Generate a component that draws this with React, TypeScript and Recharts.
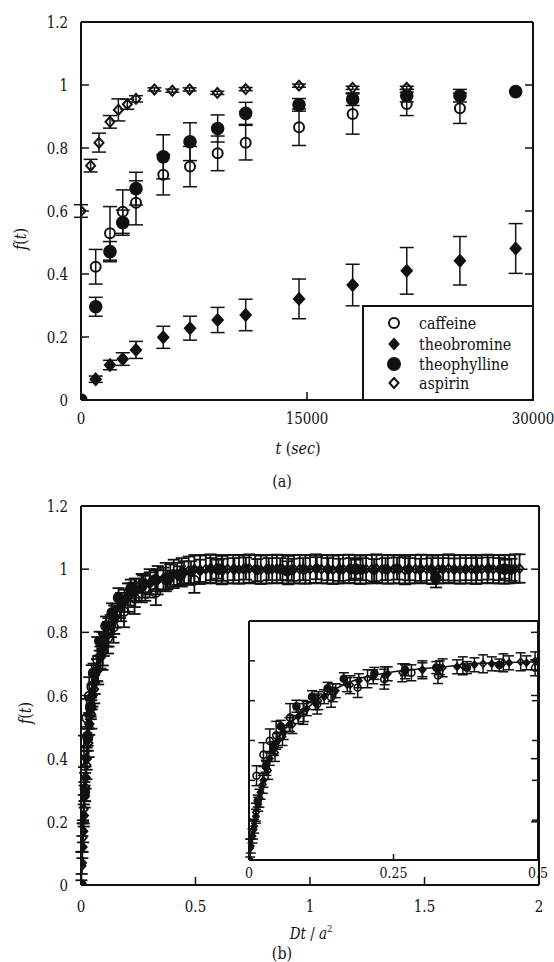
import React from 'react';
import { ComposedChart, Scatter, Line, XAxis, YAxis, ErrorBar } from 'recharts';

// only DejaVu Serif resolves to a real serif here; it runs wide, so text is narrowed with scaleX
const SERIF = "'DejaVu Serif', serif";
const NARROW = 0.84;
const INK = '#111';

// ---- (a) f(t) vs t ----
const tAsp = [0, 640, 1195, 1925, 2480, 3075, 3650, 4870, 6060, 7210, 9050, 10930, 14470, 18030, 21620];
const fAsp = [0.6, 0.744, 0.817, 0.883, 0.921, 0.939, 0.956, 0.986, 0.982, 0.986, 0.975, 0.987, 0.998, 0.991, 0.991];
const eAsp = [0.02, 0.02, 0.03, 0.02, 0.035, 0.016, 0.01, 0.005, 0.005, 0.005, 0.005, 0.005, 0.005, 0.005, 0.005];

const tCaf = [0, 975, 1925, 2770, 3650, 5460, 7235, 9070, 10930, 14470, 18030, 21620, 25150];
const fCaf = [0, 0.423, 0.529, 0.598, 0.626, 0.715, 0.741, 0.783, 0.817, 0.866, 0.908, 0.94, 0.926];
const eCaf = [0, 0.055, 0.085, 0.069, 0.07, 0.064, 0.064, 0.055, 0.055, 0.058, 0.064, 0.037, 0.048];

const tPhy = [0, 975, 1925, 2770, 3650, 5460, 7235, 9070, 10930, 14470, 18030, 21620, 25150, 28850];
const fPhy = [0, 0.296, 0.471, 0.563, 0.671, 0.772, 0.82, 0.862, 0.91, 0.937, 0.955, 0.966, 0.966, 0.979];
const ePhy = [0, 0.03, 0.032, 0.04, 0.052, 0.07, 0.06, 0.043, 0.035, 0.02, 0.02, 0.02, 0.02, 0];

const tBro = [0, 975, 1925, 2770, 3650, 5460, 7235, 9070, 10930, 14470, 18030, 21620, 25150, 28850];
const fBro = [0, 0.066, 0.111, 0.13, 0.159, 0.199, 0.228, 0.254, 0.27, 0.321, 0.365, 0.41, 0.442, 0.481];
const eBro = [0, 0.01, 0.015, 0.02, 0.027, 0.035, 0.038, 0.04, 0.05, 0.063, 0.066, 0.074, 0.077, 0.079];

const tTicks = [0, 15000, 30000];
const fTicks = [0, 0.2, 0.4, 0.6, 0.8, 1, 1.2];

// ---- (b) f vs Dt/a^2 ----
const dFit = [0, 0.005, 0.01, 0.015, 0.02, 0.03, 0.04, 0.06, 0.08, 0.1, 0.125, 0.15, 0.19, 0.22, 0.25, 0.29, 0.34, 0.38, 0.43, 0.5, 0.6, 0.8, 1.0, 1.2, 1.4, 1.6, 1.8, 1.95];
const fFit = [0, 0.12, 0.21, 0.29, 0.36, 0.47, 0.56, 0.65, 0.71, 0.76, 0.82, 0.86, 0.91, 0.93, 0.945, 0.958, 0.97, 0.985, 0.99, 0.995, 1, 1, 1, 1, 1, 1, 1, 1];

const dAspB = [
  0.002, 0.007, 0.012, 0.018, 0.024, 0.033, 0.045, 0.058, 0.075, 0.095,
  0.12, 0.145, 0.175, 0.205, 0.235, 0.265, 0.3, 0.335, 0.37, 0.405, 0.44,
  0.47, 0.495, 0.52, 0.545, 0.565, 0.59, 0.615, 0.64, 0.665, 0.69,
  0.71, 0.735, 0.76, 0.785, 0.81, 0.835, 0.855, 0.88, 0.905, 0.93,
  0.955, 0.98, 1.0, 1.025, 1.05, 1.075, 1.1, 1.125, 1.145, 1.17,
  1.195, 1.22, 1.245, 1.27, 1.29, 1.315, 1.34, 1.365, 1.39, 1.415,
  1.435, 1.46, 1.485, 1.51, 1.535, 1.56, 1.58, 1.605, 1.63, 1.655,
  1.68, 1.705, 1.725, 1.75, 1.775, 1.8, 1.825, 1.85, 1.87, 1.895,
  1.915,
];
const fAspB = [
  0.06, 0.15, 0.24, 0.31, 0.38, 0.45, 0.54, 0.62, 0.68, 0.74,
  0.8, 0.84, 0.88, 0.91, 0.925, 0.94, 0.955, 0.965, 0.975, 0.985, 0.99,
  0.995, 1, 0.998, 1, 1.002, 1, 0.997, 1, 1, 0.999,
  1, 1.002, 1, 0.998, 1, 1, 1.001, 1, 0.997, 1,
  1, 0.999, 1, 1.002, 1, 1, 0.998, 1, 1, 1.001,
  1, 0.998, 1, 1, 1.002, 1, 0.999, 1, 1, 0.997,
  1, 1, 1.001, 1, 0.998, 1, 1, 1.002, 1, 0.999,
  1, 1, 0.998, 1, 1.001, 1, 1, 0.999, 1, 1.002,
  1.002,
];
const eAspB = 0.045;

const dCafB = [0.013, 0.025, 0.036, 0.047, 0.071, 0.094, 0.118, 0.142, 0.188, 0.234, 0.281, 0.327, 0.495];
const fCafB = [0.423, 0.529, 0.598, 0.626, 0.715, 0.741, 0.783, 0.817, 0.866, 0.908, 0.94, 0.926, 0.965];
const eCafB = [0.05, 0.06, 0.06, 0.07, 0.07, 0.06, 0.05, 0.05, 0.05, 0.05, 0.04, 0.04, 0.04];

const dPhyB = [0, 0.015, 0.029, 0.042, 0.055, 0.082, 0.109, 0.136, 0.164, 0.217, 0.27, 0.324, 0.377, 0.433, 0.6, 0.9, 1.2, 1.55, 1.85];
const fPhyB = [0, 0.296, 0.471, 0.563, 0.671, 0.772, 0.82, 0.862, 0.91, 0.937, 0.955, 0.966, 0.966, 0.979, 1, 0.995, 1, 0.972, 1];
const ePhyB = [0, 0.03, 0.03, 0.03, 0.03, 0.03, 0.03, 0.03, 0.03, 0.03, 0.03, 0.03, 0.03, 0.03, 0.03, 0.03, 0.03, 0.03, 0.03];

const dBroB = [
  0.003, 0.006, 0.009, 0.012, 0.016, 0.02, 0.025, 0.03, 0.036,
  0.043, 0.05, 0.06, 0.07, 0.085, 0.1, 0.115, 0.13, 0.15, 0.17,
  0.19, 0.215, 0.24, 0.27, 0.3, 0.33, 0.36, 0.39, 0.42, 0.45,
  0.48, 0.52, 0.57, 0.62, 0.67, 0.72, 0.77, 0.82, 0.87, 0.92,
  0.97, 1.03, 1.08, 1.13, 1.18, 1.23, 1.28, 1.33, 1.38, 1.43,
  1.48, 1.53, 1.58, 1.63, 1.68, 1.73, 1.78, 1.83, 1.88,
];
const fBroB = [
  0.07, 0.12, 0.17, 0.22, 0.28, 0.34, 0.4, 0.46, 0.51,
  0.56, 0.6, 0.64, 0.68, 0.72, 0.76, 0.79, 0.82, 0.85, 0.88,
  0.9, 0.92, 0.935, 0.945, 0.955, 0.965, 0.97, 0.98, 0.985, 0.99,
  0.99, 0.995, 1, 0.998, 1, 1.002, 0.997, 1, 1, 0.998,
  1, 1.003, 1, 0.998, 1, 1, 0.997, 1, 1.002, 1,
  0.998, 1, 1, 0.999, 1, 1, 1.002, 1, 0.998,
];
const eBroB = 0.035;

const dTicks = [0, 0.5, 1, 1.5, 2];
const insetTicks = [0, 0.25, 0.5];

type Pt = { x: number; y: number; err: number };
const pts = (xs: number[], ys: number[], es: number[] | number): Pt[] =>
  xs.map((x, i) => ({ x, y: ys[i], err: Array.isArray(es) ? es[i] : es }));
const upTo = (d: Pt[], max: number) => d.filter((p) => p.x <= max);

const fitData = pts(dFit, fFit, 0);

type Kind = 'oc' | 'fc' | 'fd' | 'od';
const marker = (kind: Kind, s: number, sw = 1.6) => (p: any) => {
  const { cx, cy } = p;
  if (cx == null || cy == null) return <g />;
  if (kind === 'oc' || kind === 'fc')
    return <circle cx={cx} cy={cy} r={s} fill={kind === 'fc' ? INK : 'none'} stroke={INK} strokeWidth={sw} />;
  const w = s * 0.9;
  return (
    <path
      d={`M${cx},${cy - s}L${cx + w},${cy}L${cx},${cy + s}L${cx - w},${cy}Z`}
      fill={kind === 'fd' ? INK : 'none'}
      stroke={INK}
      strokeWidth={sw}
    />
  );
};

const svgText = (x: number, y: number, s: string, anchor: string, fs: number) => (
  <text transform={`translate(${x} ${y}) scale(${NARROW} 1)`} x={0} y={0} textAnchor={anchor}
    style={{ fontFamily: SERIF }} fontSize={fs} fill={INK}>
    {s}
  </text>
);

// inward ticks, drawn by hand since recharts only does outward ones
const tickBottom = (len: number, dy: number, fs: number) => (p: any) => (
  <g>
    <line x1={p.x} y1={p.y} x2={p.x} y2={p.y - len} stroke={INK} strokeWidth={1.5} />
    {svgText(p.x, p.y + dy, String(p.payload.value), 'middle', fs)}
  </g>
);
const tickTop = (len: number) => (p: any) => (
  <line x1={p.x} y1={p.y} x2={p.x} y2={p.y + len} stroke={INK} strokeWidth={1.5} />
);
const tickLeft = (len: number, show = true) => (p: any) => (
  <g>
    <line x1={p.x} y1={p.y} x2={p.x + len} y2={p.y} stroke={INK} strokeWidth={1.5} />
    {show && svgText(p.x - 13, p.y + 6, String(p.payload.value), 'end', 16)}
  </g>
);
const tickRight = (len: number) => (p: any) => (
  <line x1={p.x} y1={p.y} x2={p.x - len} y2={p.y} stroke={INK} strokeWidth={1.5} />
);

const frame = { stroke: INK, strokeWidth: 2 };

const series = (data: Pt[], kind: Kind, s: number, cap: number, key: string, sw = 1.6, ew = 1.5) => (
  <Scatter key={key} data={data} shape={marker(kind, s, sw)} isAnimationActive={false}>
    <ErrorBar dataKey="err" direction="y" width={cap} stroke={INK} strokeWidth={ew} isAnimationActive={false} />
  </Scatter>
);

// four framing axes; top and right get 1px so recharts still draws them
const Axes = ({ xDomain, xTicks, xLen, yLen, labelDy, fs, xH, yW, showY = true }: any) => [
  <XAxis key="xb" dataKey="x" type="number" domain={xDomain} ticks={xTicks} interval={0} height={xH} tickSize={0} tickMargin={0}
    tick={tickBottom(xLen, labelDy, fs)} axisLine={frame} allowDataOverflow />,
  <XAxis key="xt" xAxisId="top" orientation="top" type="number" domain={xDomain} ticks={xTicks} interval={0} height={1} tickSize={0}
    tickMargin={0} tick={tickTop(xLen)} axisLine={frame} allowDataOverflow />,
  <YAxis key="yl" dataKey="y" type="number" domain={[0, 1.2]} ticks={fTicks} interval={0} width={yW} tickSize={0} tickMargin={0}
    tick={tickLeft(yLen, showY)} axisLine={frame} allowDataOverflow />,
  <YAxis key="yr" yAxisId="right" orientation="right" type="number" domain={[0, 1.2]} ticks={fTicks} interval={0} width={1}
    tickSize={0} tickMargin={0} tick={tickRight(yLen)} axisLine={frame} allowDataOverflow />,
];

const label = (left: number, top: number, content: React.ReactNode, rotate = false, fs = 17) => (
  <div
    style={{
      position: 'absolute', left, top,
      transform: `translate(-50%, -50%)${rotate ? ' rotate(-90deg)' : ''} scaleX(${NARROW})`,
      fontFamily: SERIF, fontSize: fs, color: INK, whiteSpace: 'nowrap', lineHeight: 1.1,
    }}
  >
    {content}
  </div>
);

const LegendRow = ({ kind, text, y }: { kind: Kind; text: string; y: number }) => (
  <div style={{ position: 'absolute', left: 0, top: y - 10, height: 20, width: '100%' }}>
    <svg width={40} height={20} style={{ position: 'absolute', left: 10, top: 0 }}>
      {marker(kind, kind === 'fc' ? 6 : 5, 2)({ cx: 20, cy: 10 })}
    </svg>
    <span
      style={{
        position: 'absolute', left: 55, top: 0, fontFamily: SERIF, fontSize: 17, lineHeight: '20px', color: INK,
        whiteSpace: 'nowrap', transform: `scaleX(${NARROW})`, transformOrigin: 'left center',
      }}
    >
      {text}
    </span>
  </div>
);

export default function App() {
  const aAsp = pts(tAsp, fAsp, eAsp);
  const aCaf = pts(tCaf, fCaf, eCaf);
  const aPhy = pts(tPhy, fPhy, ePhy);
  const aBro = pts(tBro, fBro, eBro);

  const bAsp = pts(dAspB, fAspB, eAspB);
  const bCaf = pts(dCafB, fCafB, eCafB);
  const bPhy = pts(dPhyB, fPhyB, ePhyB);
  const bBro = pts(dBroB, fBroB, eBroB);

  return (
    <div style={{ position: 'absolute', left: 0, top: 0, width: 554, height: 962, background: '#fff', overflow: 'hidden' }}>
      {/* (a) */}
      <div style={{ position: 'absolute', left: 0, top: 0 }}>
        <ComposedChart width={554} height={440} margin={{ top: 21, right: 20, bottom: 0, left: 0 }}>
          {Axes({ xDomain: [0, 30000], xTicks: tTicks, xLen: 8, yLen: 8, labelDy: 24, fs: 16, xH: 40, yW: 81 })}
          {series(aAsp, 'od', 5, 7, 'asp', 2)}
          {series(aPhy, 'fc', 6, 7, 'phy')}
          {series(aCaf, 'oc', 5, 7, 'caf', 2)}
          {series(aBro, 'fd', 6, 7, 'bro')}
        </ComposedChart>
      </div>

      <div
        style={{
          position: 'absolute', left: 362, top: 305, width: 172, height: 96, boxSizing: 'border-box',
          border: `2px solid ${INK}`, background: '#fff',
        }}
      >
        <LegendRow kind="oc" text="caffeine" y={16} />
        <LegendRow kind="fd" text="theobromine" y={37} />
        <LegendRow kind="fc" text="theophylline" y={57} />
        <LegendRow kind="od" text="aspirin" y={76} />
      </div>

      {label(20, 239, <span><i>f</i>(<i>t</i>)</span>, true)}
      {label(298, 448, <span><i>t</i> (<i>sec</i>)</span>)}
      {label(282, 481, '(a)')}

      {/* (b) */}
      <div style={{ position: 'absolute', left: 0, top: 484 }}>
        <ComposedChart width={554} height={441} margin={{ top: 21, right: 14, bottom: 0, left: 0 }}>
          {Axes({ xDomain: [0, 2], xTicks: dTicks, xLen: 8, yLen: 8, labelDy: 27, fs: 16, xH: 40, yW: 81 })}
          <Line data={fitData} dataKey="y" type="monotone" stroke={INK} strokeWidth={1.5} dot={false} isAnimationActive={false} />
          {series(bAsp, 'od', 4.5, 6, 'asp', 1.8, 1.8)}
          {series(bBro, 'fd', 5, 6, 'bro', 1.6, 1.8)}
          {series(bPhy, 'fc', 5, 6, 'phy', 1.6, 1.8)}
          {series(bCaf, 'oc', 4.5, 6, 'caf', 1.8, 1.8)}
        </ComposedChart>
      </div>

      {/* inset: zoom on 0..0.5 */}
      <div style={{ position: 'absolute', left: 239, top: 611 }}>
        <ComposedChart width={310} height={280} margin={{ top: 9, right: 10, bottom: 30, left: 9 }}>
          {Axes({ xDomain: [0, 0.5], xTicks: insetTicks, xLen: 6, yLen: 6, labelDy: 18, fs: 15, xH: 1, yW: 1, showY: false })}
          <Line data={upTo(fitData, 0.5)} dataKey="y" type="monotone" stroke={INK} strokeWidth={1.5} dot={false} isAnimationActive={false} />
          {series(upTo(bAsp, 0.5), 'od', 3.5, 5, 'asp')}
          {series(upTo(bBro, 0.5), 'fd', 3.5, 5, 'bro')}
          {series(upTo(bPhy, 0.5), 'fc', 3.5, 5, 'phy')}
          {series(upTo(bCaf, 0.5), 'oc', 3.5, 5, 'caf')}
        </ComposedChart>
      </div>

      {label(25, 713, <span><i>f</i>(<i>t</i>)</span>, true)}
      {label(311, 933, <span><i>Dt</i> / <i>a</i><sup style={{ fontSize: 10 }}>2</sup></span>, false, 16)}
      {label(282, 953, '(b)')}
    </div>
  );
}
